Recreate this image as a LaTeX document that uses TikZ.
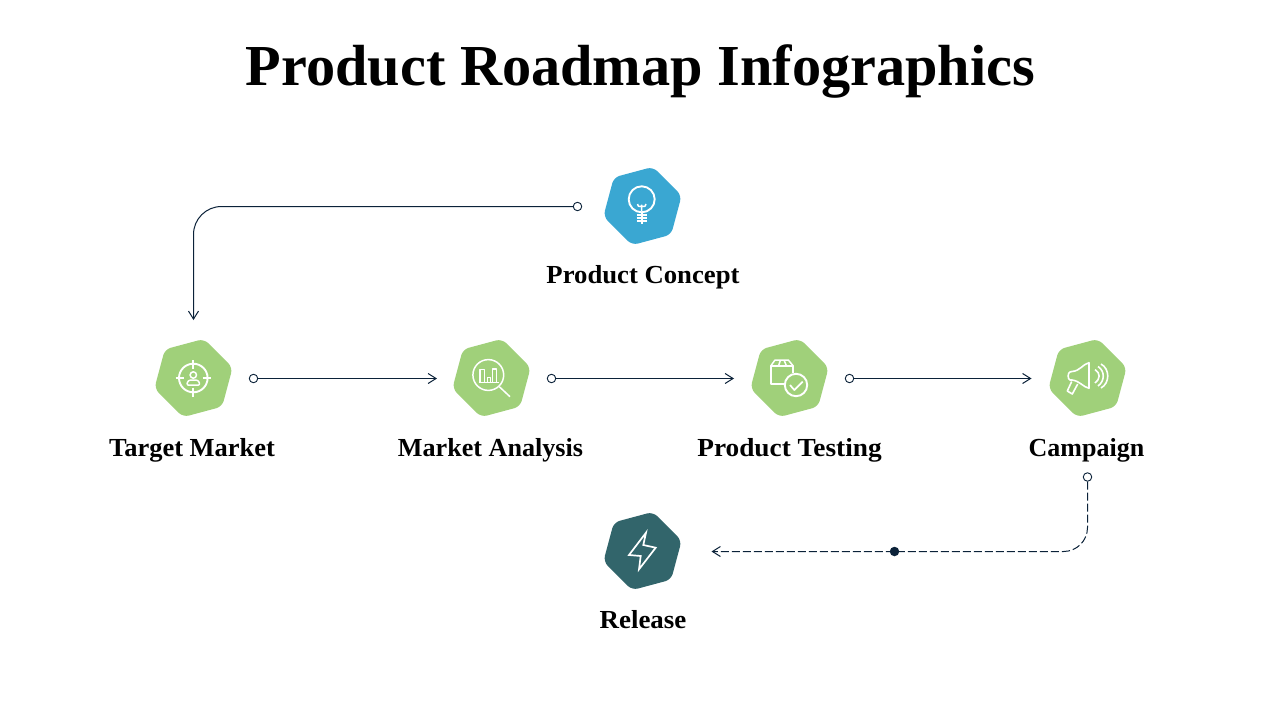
\documentclass[tikz,border=0pt]{standalone}
\usepackage{fontspec}
\newfontfamily\titlefont{Liberation Serif Bold}
\newfontfamily\labelfont{Liberation Serif Bold}
\usetikzlibrary{shapes.geometric,arrows.meta}
\definecolor{hexblue}{HTML}{3AA7D2}
\definecolor{hexgreen}{HTML}{A0D07A}
\definecolor{hexteal}{HTML}{32656B}
\definecolor{linenavy}{HTML}{0B2239}
\newcommand{\fitx}[2]{\scalebox{#1}[1]{#2}}
\tikzset{
  hexa/.style={regular polygon,regular polygon sides=6,shape border rotate=15,minimum size=81pt,inner sep=0pt,rounded corners=6pt,fill=#1,draw=none},
  lab/.style={font=\labelfont\fontsize{26}{30}\selectfont,text=black,inner sep=0pt,anchor=base},
  startdot/.style={circle,draw=linenavy,fill=white,line width=0.9pt,minimum size=8.5pt,inner sep=0pt},
  middot/.style={circle,fill=linenavy,minimum size=9.5pt,inner sep=0pt},
  conn/.style={draw=linenavy,line width=1pt,-{Straight Barb[length=8pt,width=10pt,line width=1pt]}},
  ico/.style={draw=white,line width=1.9pt,line join=round,fill=none}
}
\begin{document}
\begin{tikzpicture}[x=1pt,y=-1pt]
\useasboundingbox[fill=white] (0,0) rectangle (1280,720);
\node[font=\titlefont\fontsize{58}{64}\selectfont,inner sep=0pt,anchor=base] (title) at (640.5,85) {\fitx{1.005}{Product Roadmap Infographics}};
% hexagons
\node[hexa=hexblue] (concept) at (642.5,206) {};
\node[hexa=hexgreen] (target) at (193.5,378) {};
\node[hexa=hexgreen] (analysis) at (491.5,378) {};
\node[hexa=hexgreen] (testing) at (789.5,378) {};
\node[hexa=hexgreen] (campaign) at (1087.5,378) {};
\node[hexa=hexteal] (release) at (642.5,551) {};
% labels
\node[lab] (lconcept) at (643,283) {\fitx{1.027}{Product Concept}};
\node[lab] (ltarget) at (192,456) {\fitx{1.018}{Target Market}};
\node[lab] (lanalysis) at (490.5,456) {\fitx{1.005}{Market Analysis}};
\node[lab] (ltesting) at (789.5,456) {\fitx{1.05}{Product Testing}};
\node[lab] (lcampaign) at (1086.5,456) {Campaign};
\node[lab] (lrelease) at (643,628) {\fitx{1.036}{Release}};
% connector ends
\node[startdot] (s0) at (577.5,206.5) {};
\node[startdot] (s1) at (253.5,378.5) {};
\node[startdot] (s2) at (551.5,378.5) {};
\node[startdot] (s3) at (849.5,378.5) {};
\node[startdot] (s4) at (1087.5,477) {};
\coordinate (e0) at (193.5,320);
\coordinate (e1) at (437,378.5);
\coordinate (e2) at (734,378.5);
\coordinate (e3) at (1031.5,378.5);
\coordinate (e4) at (711.5,551.5);
% connectors
\draw[conn,rounded corners=28pt] (s0.west) -- (193.5,206.5) -- (e0);
\draw[conn] (s1.east) -- (e1);
\draw[conn] (s2.east) -- (e2);
\draw[conn] (s3.east) -- (e3);
\draw[conn,rounded corners=24pt,dash pattern=on 8pt off 3pt] (s4.south) -- (1087.5,551.5) -- (e4);
\node[middot] (mid) at (894.5,551.5) {};
% bulb
\draw[ico] (641.7,199.3) circle[radius=13pt];
\draw[ico] (641.7,212) -- (641.7,224);
\draw[ico] (636.7,215) -- (646.7,215) (636.7,218.3) -- (646.7,218.3) (636.7,221.3) -- (646.7,221.3);
\draw[ico,line width=1.5pt] (641.7,211) -- (641.7,204.5) (637.5,204) .. controls (638,206.5) .. (641.7,206.5) .. controls (645.4,206.5) .. (646,204);
% target
\draw[ico] (193.3,378) circle[radius=14.3pt];
\draw[ico] (193.3,360) -- (193.3,369) (193.3,387.5) -- (193.3,396.7) (175.5,378) -- (184,378) (202.5,378) -- (211,378);
\draw[ico,line width=1.5pt] (193.3,375) circle[radius=3.2pt];
\draw[ico,line width=1.5pt,rounded corners=1pt] (187,385) -- (187.5,381.5) -- (190,380) -- (196.6,380) -- (199,381.5) -- (199.7,385) -- cycle;
% magnifier
\draw[ico,line width=1.5pt] (488.3,375) circle[radius=15.4pt];
\draw[ico,line width=1.5pt] (499.3,386.7) -- (510,396.7);
\draw[ico,line width=1.2pt] (478.5,382.3) -- (499,382.3)
  (480,382.3) -- (480,369.3) -- (484.3,369.3) -- (484.3,382.3)
  (487.3,382.3) -- (487.3,377.3) -- (490.7,377.3) -- (490.7,382.3)
  (492.3,382.3) -- (492.3,369) -- (496.7,369) -- (496.7,382.3);
% box with check
\draw[ico] (796,385) circle[radius=11.2pt];
\draw[ico,line width=1.7pt] (790,385) -- (794.3,390) -- (802.7,381.7);
\draw[ico,line width=1.7pt] (793.3,372.5) -- (793.3,366) -- (770.7,366) -- (770.7,384) -- (784.3,384);
\draw[ico,line width=1.5pt] (770.7,366) -- (775,360) -- (788.3,360) -- (793.3,366) (780.5,360) -- (778.5,366) (784,360) -- (786.5,366);
% megaphone
\draw[ico,line width=1.6pt] (1089,362.7) -- (1089,388.3) .. controls (1083,387) and (1080,381) .. (1072,380) -- (1070,380) .. controls (1067.5,379) and (1067.5,373) .. (1070,372) -- (1072,371.5) .. controls (1080,371) and (1083,364) .. (1089,362.7) -- cycle;
\draw[ico,line width=1.6pt] (1071.7,381.5) -- (1067.3,391) -- (1072.3,394) -- (1077.7,384);
\draw[ico,line width=1.6pt] (1095,369.5) .. controls (1100.5,373) and (1100.5,379) .. (1095,383)
  (1098,366.5) .. controls (1105,371) and (1105,381) .. (1098,386)
  (1101,364) .. controls (1110,369) and (1110,383) .. (1101,388);
% lightning
\draw[ico,line width=1.7pt,line join=miter] (646,532.7) -- (629,555) -- (640.7,556) -- (639,569.3) -- (655.7,547.7) -- (643.3,545) -- cycle;
\end{tikzpicture}
\end{document}
